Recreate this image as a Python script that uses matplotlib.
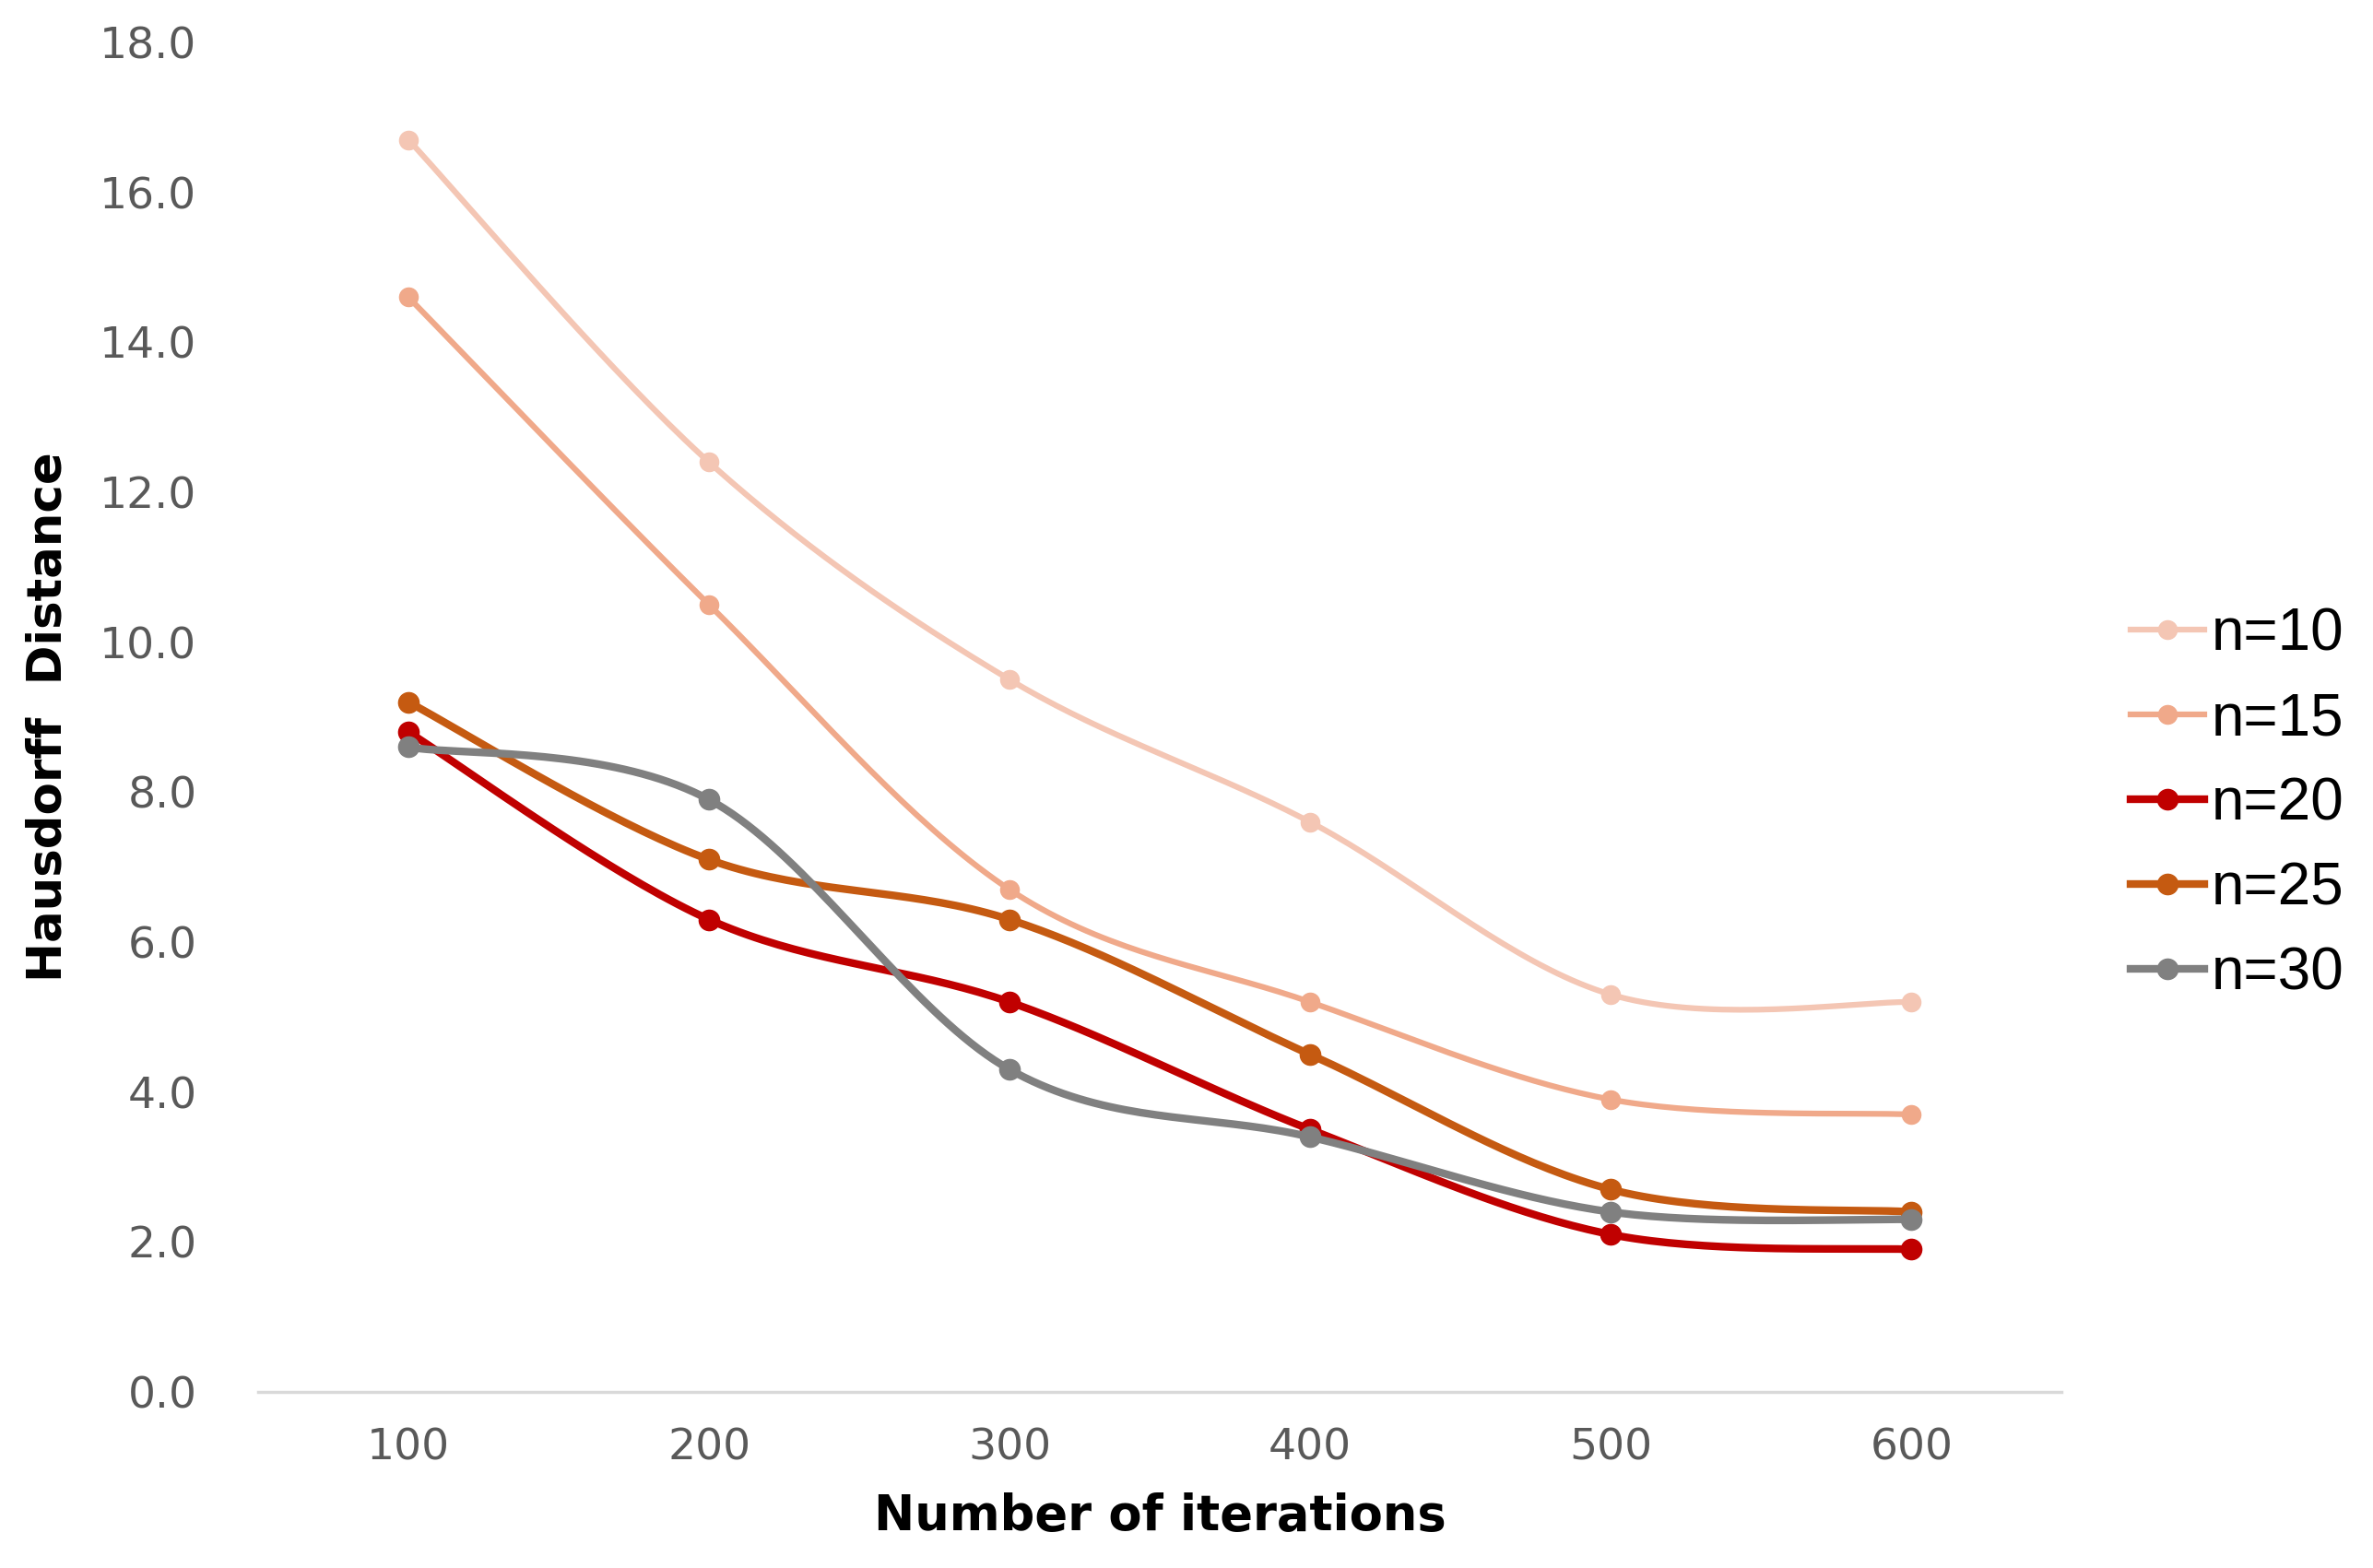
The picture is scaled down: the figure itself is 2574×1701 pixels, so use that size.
import numpy as np
import matplotlib
matplotlib.use("Agg")
from matplotlib import pyplot as plt

iteraciones = [100, 200, 300, 400, 500, 600]
etiquetas = ["n=10", "n=15", "n=20", "n=25", "n=30"]
n10 = [16.7, 12.4, 9.5, 7.6, 5.3, 5.2]
n15 = [14.6, 10.5, 6.7, 5.2, 3.9, 3.7]
n20 = [8.8, 6.3, 5.2, 3.5, 2.1, 1.9]
n25 = [9.2, 7.1, 6.3, 4.5, 2.7, 2.4]
n30 = [8.6, 7.9, 4.3, 3.4, 2.4, 2.3]
colores = ["#F4C6B4", "#F0A98A", "#C00000", "#C55A11", "#808080"]
grosor = [4.5, 4.5, 6.0, 6.0, 6.0]
series = [n10, n15, n20, n25, n30]


def suave(x, y, pasos=40):
    # curva suavizada tipo Excel (bezier con tangentes catmull-rom)
    x = np.asarray(x, float)
    y = np.asarray(y, float)
    xs, ys = [], []
    n = len(x)
    for i in range(n - 1):
        p0 = (x[max(i - 1, 0)], y[max(i - 1, 0)])
        p1 = (x[i], y[i])
        p2 = (x[i + 1], y[i + 1])
        p3 = (x[min(i + 2, n - 1)], y[min(i + 2, n - 1)])
        c1 = (p1[0] + (p2[0] - p0[0]) / 6, p1[1] + (p2[1] - p0[1]) / 6)
        c2 = (p2[0] - (p3[0] - p1[0]) / 6, p2[1] - (p3[1] - p1[1]) / 6)
        t = np.linspace(0, 1, pasos)
        bx = (1-t)**3*p1[0] + 3*(1-t)**2*t*c1[0] + 3*(1-t)*t**2*c2[0] + t**3*p2[0]
        by = (1-t)**3*p1[1] + 3*(1-t)**2*t*c1[1] + 3*(1-t)*t**2*c2[1] + t**3*p2[1]
        xs.extend(bx)
        ys.extend(by)
    return xs, ys


fig = plt.figure(figsize=(25.74, 17.01), dpi=100)
ax = fig.add_axes([0.1088, 0.1123, 0.7600, 0.8607])

for y, c, lw, lab in zip(series, colores, grosor, etiquetas):
    sx, sy = suave(iteraciones, y)
    ax.plot(sx, sy, color=c, lw=lw, solid_capstyle="round")
    ax.plot(iteraciones, y, "o", color=c, ms=lw + 10)
    ax.plot([], [], "-o", color=c, lw=lw, ms=lw + 10, label=lab)

ax.set_xlim(50, 650)
ax.set_ylim(0, 18)
ax.set_xticks(iteraciones)
ax.set_yticks(np.arange(0, 18.1, 2))
ax.set_yticklabels(["%.1f" % v for v in np.arange(0, 18.1, 2)])
ax.tick_params(length=0, labelsize=34, labelcolor="#595959")
ax.tick_params(axis="y", pad=48)
ax.tick_params(axis="x", pad=28)
for s in ["top", "right", "left"]:
    ax.spines[s].set_visible(False)
ax.spines["bottom"].set_color("#D9D9D9")
ax.spines["bottom"].set_linewidth(2.5)

ax.set_xlabel("Number of iterations", fontsize=38, fontweight="bold", labelpad=18)
ax.set_ylabel("Hausdorff  Distance", fontsize=37, fontweight="bold", labelpad=22)

fig.legend(loc="center left", bbox_to_anchor=(0.898, 0.487), frameon=False,
           prop={"family": "Liberation Sans", "size": 46},
           borderaxespad=0, borderpad=0,
           handlelength=1.25, handletextpad=0.12, labelspacing=0.5)

plt.savefig("out.png", dpi=100)
